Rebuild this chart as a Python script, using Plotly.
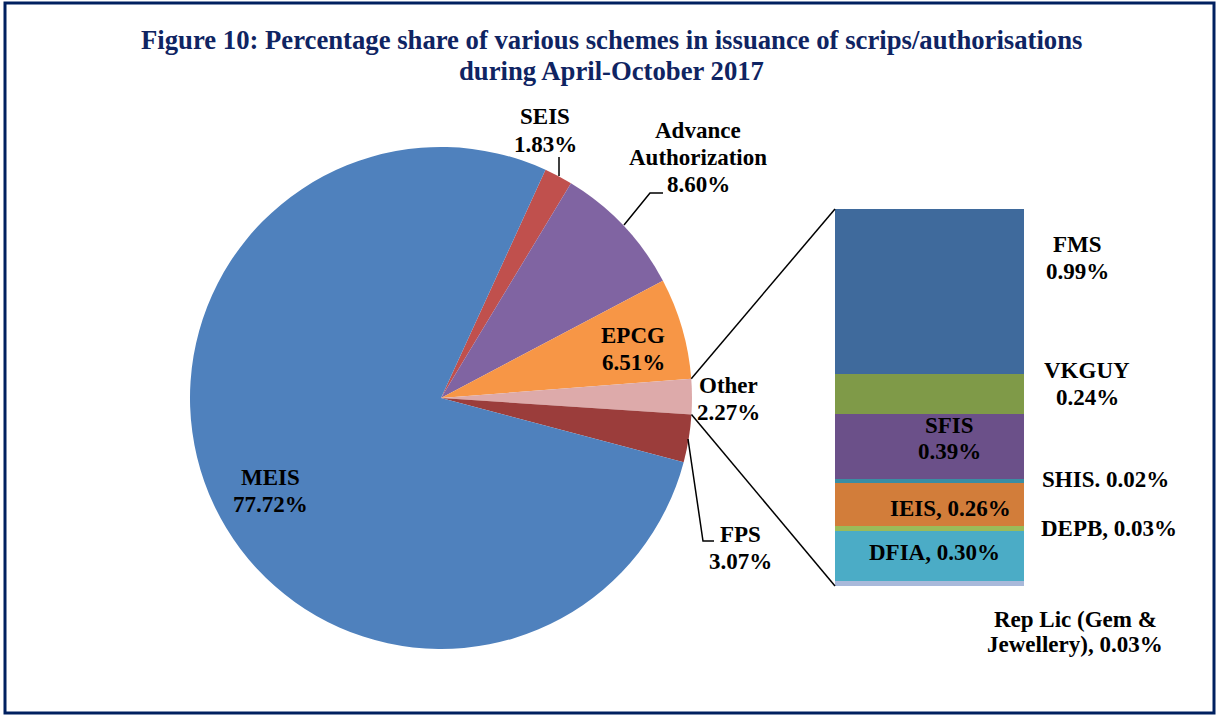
import math
import plotly.graph_objects as go

W, H = 1216, 715

# ---------------- data ----------------
pie_labels = ["SEIS", "Advance Authorization", "EPCG", "Other", "FPS", "MEIS"]
pie_values = [1.83, 8.60, 6.51, 2.27, 3.07, 77.72]
pie_colors = ["#C0504D", "#8064A2", "#F79646", "#DDAAAA", "#9B3D3B", "#4F81BD"]

bar_labels = ["Rep Lic (Gem & Jewellery)", "DFIA", "DEPB", "IEIS", "SHIS", "SFIS", "VKGUY", "FMS"]
bar_values = [0.03, 0.30, 0.03, 0.26, 0.02, 0.39, 0.24, 0.99]
bar_colors = ["#A9B9DA", "#4BACC6", "#9BBB59", "#D27D3A", "#3A8DA3", "#6B5089", "#7F9A48", "#3F6A9C"]

title_lines = ["Figure 10: Percentage share of various schemes in issuance of scrips/authorisations",
               "during April-October 2017"]

# ---------------- geometry (pixels) ----------------
def px(x, y):
    return x / W, 1 - y / H

pie_cx, pie_cy, pie_r = 441, 398, 251
rotation = 24.6
bar_left, bar_right, bar_top, bar_bottom = 835, 1024, 209, 586

FONT = "Liberation Serif"
NAVY = "#0F2462"

fig = go.Figure()

fig.add_trace(go.Pie(
    labels=pie_labels, values=pie_values, sort=False, direction="clockwise",
    rotation=rotation, textinfo="none", hoverinfo="label+percent",
    marker=dict(colors=pie_colors, line=dict(width=0)),
    domain=dict(x=[(pie_cx - pie_r) / W, (pie_cx + pie_r) / W],
                y=[1 - (pie_cy + pie_r) / H, 1 - (pie_cy - pie_r) / H]),
    showlegend=False,
))

for lab, val, col in zip(bar_labels, bar_values, bar_colors):
    fig.add_trace(go.Bar(x=[0], y=[val], name=lab, marker=dict(color=col, line=dict(width=0)),
                         showlegend=False, hoverinfo="name+y", width=1))

total_bar = sum(bar_values)
fig.update_layout(
    width=W, height=H, margin=dict(l=0, r=0, t=0, b=0),
    paper_bgcolor="white", plot_bgcolor="rgba(0,0,0,0)",
    barmode="stack", bargap=0,
    xaxis=dict(domain=[bar_left / W, bar_right / W], range=[-0.5, 0.5], visible=False, fixedrange=True),
    yaxis=dict(domain=[1 - bar_bottom / H, 1 - bar_top / H], range=[0, total_bar], visible=False, fixedrange=True),
)

# connector lines from "Other" slice edges to the bar corners
tot = sum(pie_values)
idx = pie_labels.index("Other")
start = rotation + 360 * sum(pie_values[:idx]) / tot
end = start + 360 * pie_values[idx] / tot
def on_circle(a):
    t = math.radians(a)
    return pie_cx + pie_r * math.sin(t), pie_cy - pie_r * math.cos(t)
p1 = on_circle(start)
p2 = on_circle(end)
shapes = []
for (sx, sy), (ex, ey) in [(p1, (bar_left, bar_top)), (p2, (bar_left, bar_bottom))]:
    a = px(sx, sy); b = px(ex, ey)
    shapes.append(dict(type="line", xref="paper", yref="paper", x0=a[0], y0=a[1], x1=b[0], y1=b[1],
                       line=dict(color="black", width=1.5)))

# leader lines
def path(pts):
    s = ""
    for i, (x, y) in enumerate(pts):
        X, Y = px(x, y)
        s += ("M" if i == 0 else "L") + f"{X},{Y} "
    return s
for pts in [[(559, 157), (559, 176)],
            [(663, 193), (650, 193), (624, 225)],
            [(688, 439), (703, 541), (714, 541)]]:
    shapes.append(dict(type="path", xref="paper", yref="paper", path=path(pts),
                       line=dict(color="black", width=1.5)))

# frame
x0, y0 = px(5, 3); x1, y1 = px(1214, 713)
shapes.append(dict(type="rect", xref="paper", yref="paper", x0=x0, y0=y0, x1=x1, y1=y1,
                   line=dict(color="#002060", width=3)))
fig.update_layout(shapes=shapes)

# ---------------- annotations ----------------
def ann(lines, x, y, size=23, color="black", spacing=27):
    for i, line in enumerate(lines):
        X, Y = px(x, y + i * spacing)
        fig.add_annotation(x=X, y=Y, xref="paper", yref="paper", text=f"<b>{line}</b>", showarrow=False,
                           font=dict(family=FONT, size=size, color=color),
                           xanchor="center", yanchor="middle")

ann(title_lines, 611, 40, size=26.7, color=NAVY, spacing=31)

def pct(v):
    return f"{v:.2f}%"

pie_pos = {"SEIS": (545, 117), "Advance Authorization": (698, 130), "EPCG": (633, 335),
           "Other": (728, 385), "FPS": (740, 534), "MEIS": (270, 477)}
for lab, val in zip(pie_labels, pie_values):
    head = ["Advance", "Authorization"] if lab == "Advance Authorization" else [lab]
    ann(head + [pct(val)], *pie_pos[lab])

bar_pos = {"FMS": (1077, 244), "VKGUY": (1087, 370), "SFIS": (949, 425),
           "SHIS": (1105, 479), "IEIS": (950, 508), "DEPB": (1109, 528),
           "DFIA": (934, 552), "Rep Lic (Gem & Jewellery)": (1075, 619)}
for lab, val in zip(bar_labels, bar_values):
    x, y = bar_pos[lab]
    if lab in ("FMS", "VKGUY", "SFIS"):
        lines = [lab, pct(val)]
    elif lab == "SHIS":
        lines = [f"{lab}. {pct(val)}"]
    elif lab.startswith("Rep Lic"):
        lines = ["Rep Lic (Gem &amp;", f"Jewellery), {pct(val)}"]
    else:
        lines = [f"{lab}, {pct(val)}"]
    ann(lines, x, y, spacing=25 if lab.startswith("Rep") else 27)

fig.write_html("out.html", config={"displayModeBar": False},
               post_script="document.body.style.margin='0px';")
